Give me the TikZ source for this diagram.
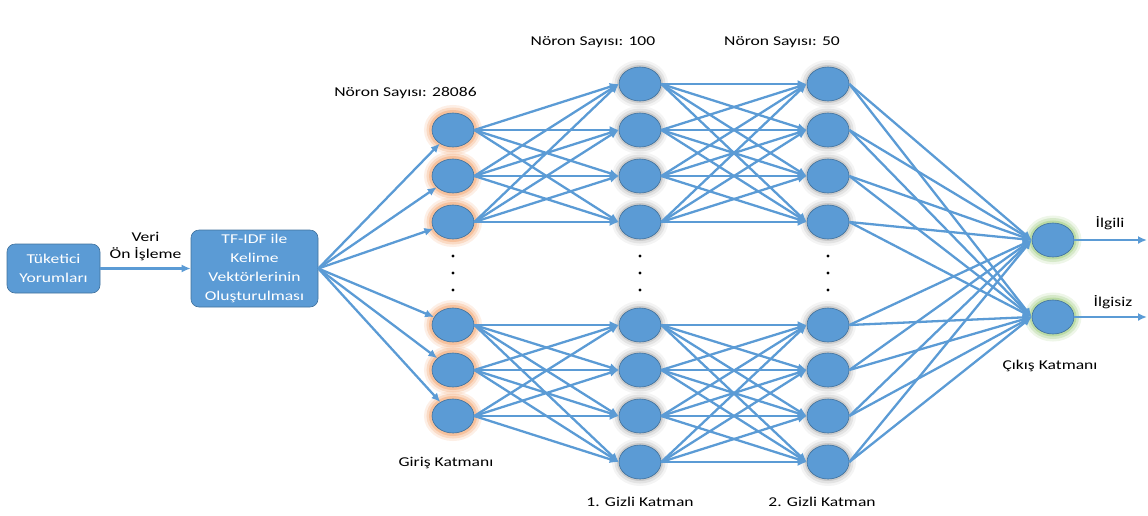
\documentclass[tikz,border=0pt]{standalone}
\usepackage{fontspec}
\setmainfont{Carlito}[FakeStretch=1.3]
\usetikzlibrary{shapes.geometric, arrows.meta}

\definecolor{nblue}{HTML}{5B9BD5}
\definecolor{nline}{HTML}{41719C}
\definecolor{gloworange}{HTML}{F4B183}
\definecolor{glowgreen}{HTML}{A9D18E}
\definecolor{glowgray}{HTML}{A6A6A6}

\tikzset{
    neuron/.style={ellipse, draw=nline, fill=nblue, line width=0.6pt,
        minimum width=42pt, minimum height=34pt, inner sep=0pt},
    inglow/.style={
        preaction={draw=gloworange, draw opacity=0.20, line width=16pt},
        preaction={draw=gloworange, draw opacity=0.35, line width=11pt},
        preaction={draw=gloworange, draw opacity=0.60, line width=6pt}},
    hidglow/.style={
        preaction={draw=glowgray, draw opacity=0.12, line width=14pt},
        preaction={draw=glowgray, draw opacity=0.22, line width=9pt},
        preaction={draw=glowgray, draw opacity=0.40, line width=4pt}},
    outglow/.style={
        preaction={draw=glowgreen, draw opacity=0.20, line width=15pt},
        preaction={draw=glowgreen, draw opacity=0.35, line width=10pt},
        preaction={draw=glowgreen, draw opacity=0.60, line width=5pt}},
    box/.style={rectangle, rounded corners=8pt, draw=nline, fill=nblue,
        line width=0.6pt, text=white, align=center, inner sep=0pt,
        font=\fontsize{13.5}{19}\selectfont},
    lbl/.style={align=center, font=\fontsize{13.5}{17}\selectfont},
    link/.style={draw=nblue, line width=2.3pt, -{Latex[length=9pt,width=8pt]}},
    dot/.style={fill=black}
}

\begin{document}
\begin{tikzpicture}[x=1pt, y=-1pt]
    \useasboundingbox (0,0) rectangle (1148,515);

    % Input side boxes
    \node[box, minimum width=93pt, minimum height=49pt] (rev) at (53.5,268.5) {Tüketici\\Yorumları};
    \node[box, minimum width=127pt, minimum height=77pt] (tfidf) at (254.5,268.5) {TF-IDF ile\\Kelime\\Vektörlerinin\\Oluşturulması};
    \draw[link] (rev) -- (tfidf) node[lbl, midway, above=3pt] {Veri\\Ön İşleme};

    % Input layer
    \node[neuron, inglow] (in1) at (453,130) {};
    \node[neuron, inglow] (in2) at (453,176) {};
    \node[neuron, inglow] (in3) at (453,222) {};
    \node[neuron, inglow] (in4) at (453,325) {};
    \node[neuron, inglow] (in5) at (453,370) {};
    \node[neuron, inglow] (in6) at (453,416) {};

    % First hidden layer
    \node[neuron, hidglow] (ha1) at (640,84) {};
    \node[neuron, hidglow] (ha2) at (640,130) {};
    \node[neuron, hidglow] (ha3) at (640,176) {};
    \node[neuron, hidglow] (ha4) at (640,222) {};
    \node[neuron, hidglow] (ha5) at (640,325) {};
    \node[neuron, hidglow] (ha6) at (640,370) {};
    \node[neuron, hidglow] (ha7) at (640,416) {};
    \node[neuron, hidglow] (ha8) at (640,462) {};

    % Second hidden layer
    \node[neuron, hidglow] (hb1) at (828,84) {};
    \node[neuron, hidglow] (hb2) at (828,130) {};
    \node[neuron, hidglow] (hb3) at (828,176) {};
    \node[neuron, hidglow] (hb4) at (828,222) {};
    \node[neuron, hidglow] (hb5) at (828,325) {};
    \node[neuron, hidglow] (hb6) at (828,370) {};
    \node[neuron, hidglow] (hb7) at (828,416) {};
    \node[neuron, hidglow] (hb8) at (828,462) {};

    % Output layer
    \node[neuron, outglow] (out1) at (1053,240) {};
    \node[neuron, outglow] (out2) at (1053,317) {};
    \coordinate (end1) at (1147,240);
    \coordinate (end2) at (1147,317);

    % Vertical dots
    \foreach \x in {453,640,828}
        \foreach \y in {256,273,290}
            \fill[dot] (\x,\y) circle (1.6);

    % Draw connections
    \foreach \i in {1,...,6}
        \draw[link] (tfidf.east) -- (in\i);
    \foreach \i in {1,2,3}
        \foreach \j in {1,...,4}
            \draw[link] (in\i.east) -- (ha\j.west);
    \foreach \i in {4,5,6}
        \foreach \j in {5,...,8}
            \draw[link] (in\i.east) -- (ha\j.west);
    \foreach \i in {1,...,4}
        \foreach \j in {1,...,4}
            \draw[link] (ha\i.east) -- (hb\j.west);
    \foreach \i in {5,...,8}
        \foreach \j in {5,...,8}
            \draw[link] (ha\i.east) -- (hb\j.west);
    \foreach \i in {1,...,8}
        \foreach \j in {1,2}
            \draw[link] (hb\i.east) -- (out\j.west);
    \draw[link] (out1.east) -- (end1);
    \draw[link] (out2.east) -- (end2);

    % Labels
    \node[lbl] (cnt0) at (405.5,93) {Nöron Sayısı: 28086};
    \node[lbl] (cnt1) at (593,42) {Nöron Sayısı: 100};
    \node[lbl] (cnt2) at (782,42) {Nöron Sayısı: 50};
    \node[lbl] (lin) at (446,463) {Giriş Katmanı};
    \node[lbl] (lha) at (640,502) {1. Gizli Katman};
    \node[lbl] (lhb) at (822,502) {2. Gizli Katman};
    \node[lbl] (lout) at (1050,366) {Çıkış Katmanı};
    \node[lbl] (lo1) at (1110,223) {İlgili};
    \node[lbl] (lo2) at (1113,302) {İlgisiz};
\end{tikzpicture}
\end{document}
